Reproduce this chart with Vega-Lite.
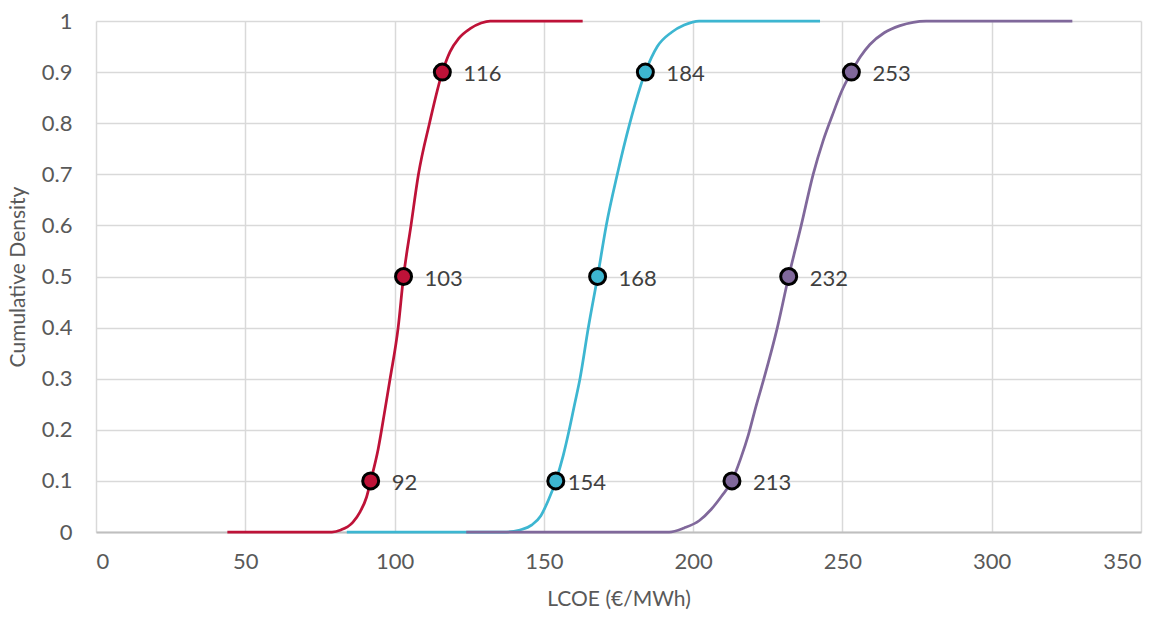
{
  "$schema": "https://vega.github.io/schema/vega-lite/v6.json",
  "width": 1045,
  "height": 511,
  "autosize": "none",
  "padding": {"left": 96, "top": 21, "right": 23, "bottom": 85},
  "background": "white",
  "config": {"view": {"stroke": null}, "font": "Lato"},
  "datasets": {
    "curves": [
      {"series": "s1", "lcoe": 44, "p": 0},
      {"series": "s1", "lcoe": 79, "p": 0},
      {"series": "s1", "lcoe": 82, "p": 0.004},
      {"series": "s1", "lcoe": 86, "p": 0.019},
      {"series": "s1", "lcoe": 88.5, "p": 0.04},
      {"series": "s1", "lcoe": 90.6, "p": 0.068},
      {"series": "s1", "lcoe": 92, "p": 0.1},
      {"series": "s1", "lcoe": 94.5, "p": 0.162},
      {"series": "s1", "lcoe": 96.8, "p": 0.24},
      {"series": "s1", "lcoe": 98.5, "p": 0.3},
      {"series": "s1", "lcoe": 101.2, "p": 0.4},
      {"series": "s1", "lcoe": 103, "p": 0.5},
      {"series": "s1", "lcoe": 105.5, "p": 0.6},
      {"series": "s1", "lcoe": 108, "p": 0.7},
      {"series": "s1", "lcoe": 111.7, "p": 0.8},
      {"series": "s1", "lcoe": 116, "p": 0.9},
      {"series": "s1", "lcoe": 118.6, "p": 0.94},
      {"series": "s1", "lcoe": 121.5, "p": 0.966},
      {"series": "s1", "lcoe": 125.3, "p": 0.985},
      {"series": "s1", "lcoe": 129, "p": 0.996},
      {"series": "s1", "lcoe": 132, "p": 1},
      {"series": "s1", "lcoe": 163, "p": 1},
      {"series": "s2", "lcoe": 84, "p": 0},
      {"series": "s2", "lcoe": 137.5, "p": 0},
      {"series": "s2", "lcoe": 142, "p": 0.004},
      {"series": "s2", "lcoe": 146, "p": 0.014},
      {"series": "s2", "lcoe": 149, "p": 0.032},
      {"series": "s2", "lcoe": 151.5, "p": 0.062},
      {"series": "s2", "lcoe": 154, "p": 0.1},
      {"series": "s2", "lcoe": 156.5, "p": 0.15},
      {"series": "s2", "lcoe": 158.5, "p": 0.2},
      {"series": "s2", "lcoe": 160.3, "p": 0.25},
      {"series": "s2", "lcoe": 162.1, "p": 0.3},
      {"series": "s2", "lcoe": 164.9, "p": 0.4},
      {"series": "s2", "lcoe": 168, "p": 0.5},
      {"series": "s2", "lcoe": 170.9, "p": 0.6},
      {"series": "s2", "lcoe": 174.6, "p": 0.7},
      {"series": "s2", "lcoe": 178.8, "p": 0.8},
      {"series": "s2", "lcoe": 184, "p": 0.9},
      {"series": "s2", "lcoe": 188, "p": 0.95},
      {"series": "s2", "lcoe": 192.8, "p": 0.978},
      {"series": "s2", "lcoe": 197, "p": 0.992},
      {"series": "s2", "lcoe": 202, "p": 1},
      {"series": "s2", "lcoe": 242.5, "p": 1},
      {"series": "s3", "lcoe": 124, "p": 0},
      {"series": "s3", "lcoe": 192, "p": 0},
      {"series": "s3", "lcoe": 197, "p": 0.008},
      {"series": "s3", "lcoe": 202, "p": 0.022},
      {"series": "s3", "lcoe": 206, "p": 0.044},
      {"series": "s3", "lcoe": 209.5, "p": 0.07},
      {"series": "s3", "lcoe": 213, "p": 0.1},
      {"series": "s3", "lcoe": 216, "p": 0.145},
      {"series": "s3", "lcoe": 218.5, "p": 0.19},
      {"series": "s3", "lcoe": 221, "p": 0.245},
      {"series": "s3", "lcoe": 223.7, "p": 0.3},
      {"series": "s3", "lcoe": 228.2, "p": 0.4},
      {"series": "s3", "lcoe": 232, "p": 0.5},
      {"series": "s3", "lcoe": 236.2, "p": 0.6},
      {"series": "s3", "lcoe": 240.2, "p": 0.7},
      {"series": "s3", "lcoe": 243.5, "p": 0.765},
      {"series": "s3", "lcoe": 246.6, "p": 0.815},
      {"series": "s3", "lcoe": 249.7, "p": 0.862},
      {"series": "s3", "lcoe": 253, "p": 0.9},
      {"series": "s3", "lcoe": 256, "p": 0.93},
      {"series": "s3", "lcoe": 259.2, "p": 0.954},
      {"series": "s3", "lcoe": 264, "p": 0.977},
      {"series": "s3", "lcoe": 269.3, "p": 0.991},
      {"series": "s3", "lcoe": 278, "p": 1},
      {"series": "s3", "lcoe": 327, "p": 1}
    ],
    "pts": [
      {"series": "s1", "lcoe": 92, "p": 0.1, "label": "92"},
      {"series": "s1", "lcoe": 103, "p": 0.5, "label": "103"},
      {"series": "s1", "lcoe": 116, "p": 0.9, "label": "116"},
      {"series": "s2", "lcoe": 154, "p": 0.1, "label": "154"},
      {"series": "s2", "lcoe": 168, "p": 0.5, "label": "168"},
      {"series": "s2", "lcoe": 184, "p": 0.9, "label": "184"},
      {"series": "s3", "lcoe": 213, "p": 0.1, "label": "213"},
      {"series": "s3", "lcoe": 232, "p": 0.5, "label": "232"},
      {"series": "s3", "lcoe": 253, "p": 0.9, "label": "253"}
    ]
  },
  "encoding": {
    "x": {
      "field": "lcoe", "type": "quantitative",
      "scale": {"domain": [0, 350], "nice": false, "zero": false},
      "axis": {
        "values": [0, 50, 100, 150, 200, 250, 300, 350],
        "grid": true, "gridColor": "#D9D9D9", "gridWidth": 1.5,
        "domainColor": "#BFBFBF", "domainWidth": 2,
        "ticks": false,
        "labelFontSize": 22, "labelColor": "#595959", "labelPadding": 19,
        "title": "LCOE (€/MWh)", "titleFontSize": 21, "titleFontWeight": "normal",
        "titleColor": "#595959", "titlePadding": 16
      }
    },
    "y": {
      "field": "p", "type": "quantitative",
      "scale": {"domain": [0, 1], "nice": false},
      "axis": {
        "values": [0, 0.1, 0.2, 0.3, 0.4, 0.5, 0.6, 0.7, 0.8, 0.9, 1],
        "format": "~g",
        "grid": true, "gridColor": "#D9D9D9", "gridWidth": 1.5,
        "domain": false, "ticks": false,
        "labelFontSize": 22, "labelColor": "#595959", "labelPadding": 24,
        "title": "Cumulative Density", "titleFontSize": 21, "titleFontWeight": "normal",
        "titleColor": "#595959", "titlePadding": 13
      }
    },
    "color": {
      "field": "series", "type": "nominal",
      "scale": {"domain": ["s1", "s2", "s3"], "range": ["#BE1238", "#3DB6D1", "#80689B"]},
      "legend": null
    }
  },
  "layer": [
    {
      "data": {"name": "curves"},
      "mark": {"type": "line", "interpolate": "monotone", "strokeWidth": 2.75}
    },
    {
      "data": {"name": "pts"},
      "mark": {"type": "circle", "size": 256, "stroke": "black", "strokeWidth": 3, "opacity": 1}
    },
    {
      "data": {"name": "pts"},
      "transform": [{"filter": "datum.label != '154'"}],
      "mark": {"type": "text", "align": "left", "baseline": "middle", "dx": 21, "dy": 2, "fontSize": 22, "color": "#404040"},
      "encoding": {"text": {"field": "label"}, "color": {"value": "#404040"}}
    },
    {
      "data": {"name": "pts"},
      "transform": [{"filter": "datum.label == '154'"}],
      "mark": {"type": "text", "align": "left", "baseline": "middle", "dx": 12, "dy": 2, "fontSize": 22, "color": "#404040"},
      "encoding": {"text": {"field": "label"}, "color": {"value": "#404040"}}
    }
  ]
}
